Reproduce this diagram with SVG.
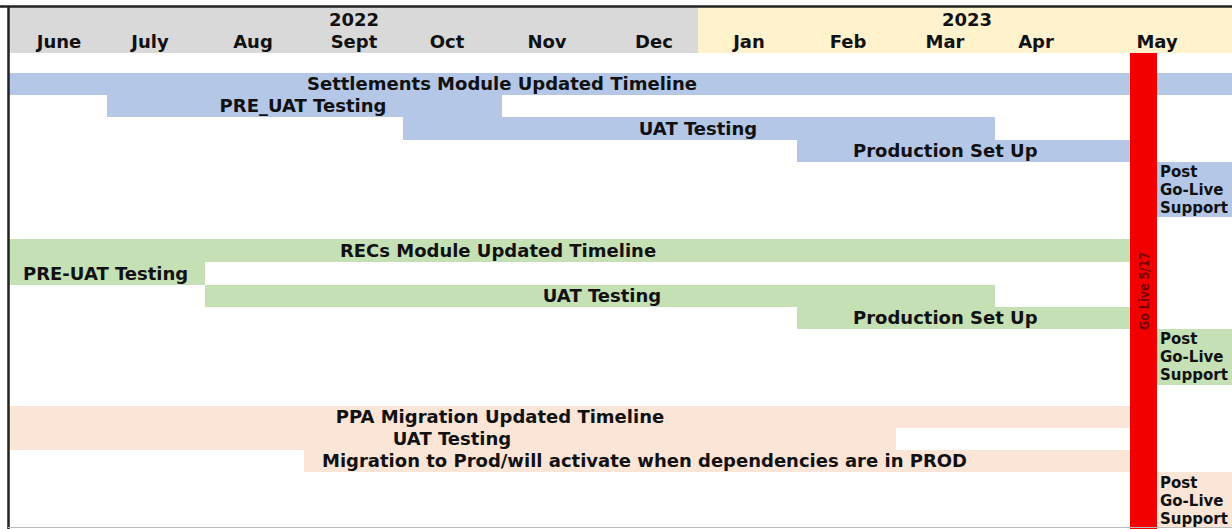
<svg xmlns="http://www.w3.org/2000/svg" width="1232" height="529" viewBox="0 0 1232 529">
  <style>
    text { font-family: "DejaVu Sans", Verdana, sans-serif; font-weight: bold; fill: #111; }
    .hdr { font-size: 18px; text-anchor: middle; }
    .lbl { font-size: 18px; }
    .mid { text-anchor: middle; }
    .post { font-size: 15px; }
    .blue { fill: #b4c7e7; }
    .green { fill: #c5e0b4; }
    .peach { fill: #fbe5d6; }
    .marker-label { font-size: 14px; fill: #7a0000; }
  </style>

  <rect width="1232" height="529" fill="#ffffff"/>

  <!-- header band: months by year -->
  <g id="header">
    <rect x="9" y="7" width="689" height="46" fill="#d9d9d9"/>
    <rect x="698" y="7" width="534" height="46" fill="#fff2cc"/>
    <text class="hdr" x="354" y="26">2022</text>
    <text class="hdr" x="967" y="26">2023</text>
    <text class="hdr" x="59" y="48">June</text>
    <text class="hdr" x="150" y="48">July</text>
    <text class="hdr" x="253" y="48">Aug</text>
    <text class="hdr" x="354" y="48">Sept</text>
    <text class="hdr" x="447" y="48">Oct</text>
    <text class="hdr" x="547" y="48">Nov</text>
    <text class="hdr" x="654" y="48">Dec</text>
    <text class="hdr" x="749" y="48">Jan</text>
    <text class="hdr" x="848" y="48">Feb</text>
    <text class="hdr" x="945" y="48">Mar</text>
    <text class="hdr" x="1036" y="48">Apr</text>
    <text class="hdr" x="1157" y="48">May</text>
  </g>

  <!-- Settlements module -->
  <g id="settlements">
    <rect class="blue" x="9" y="73" width="1223" height="22"/>
    <text class="lbl mid" x="502" y="90">Settlements Module Updated Timeline</text>
    <rect class="blue" x="107" y="95" width="395" height="22"/>
    <text class="lbl mid" x="303" y="112">PRE_UAT Testing</text>
    <rect class="blue" x="403" y="117" width="592" height="23"/>
    <text class="lbl mid" x="698" y="135">UAT Testing</text>
    <rect class="blue" x="797" y="140" width="333" height="22"/>
    <text class="lbl" x="853" y="157">Production Set Up</text>
    <rect class="blue" x="1157" y="162" width="75" height="55"/>
    <text class="post" x="1160" y="177">Post</text>
    <text class="post" x="1160" y="195">Go-Live</text>
    <text class="post" x="1160" y="213">Support</text>
  </g>

  <!-- RECs module -->
  <g id="recs">
    <rect class="green" x="9" y="239" width="1121" height="23"/>
    <text class="lbl mid" x="498" y="257">RECs Module Updated Timeline</text>
    <rect class="green" x="9" y="262" width="196" height="23"/>
    <text class="lbl" x="23" y="280">PRE-UAT Testing</text>
    <rect class="green" x="205" y="285" width="790" height="22"/>
    <text class="lbl mid" x="602" y="302">UAT Testing</text>
    <rect class="green" x="797" y="307" width="333" height="22"/>
    <text class="lbl" x="853" y="324">Production Set Up</text>
    <rect class="green" x="1157" y="329" width="75" height="56"/>
    <text class="post" x="1160" y="344">Post</text>
    <text class="post" x="1160" y="362">Go-Live</text>
    <text class="post" x="1160" y="380">Support</text>
  </g>

  <!-- PPA migration -->
  <g id="ppa">
    <rect class="peach" x="9" y="406" width="1121" height="22"/>
    <text class="lbl mid" x="500" y="423">PPA Migration Updated Timeline</text>
    <rect class="peach" x="9" y="428" width="887" height="22"/>
    <text class="lbl mid" x="452" y="445">UAT Testing</text>
    <rect class="peach" x="304" y="450" width="826" height="22"/>
    <text class="lbl" x="322" y="467">Migration to Prod/will activate when dependencies are in PROD</text>
    <rect class="peach" x="1157" y="472" width="75" height="55"/>
    <text class="post" x="1160" y="488">Post</text>
    <text class="post" x="1160" y="506">Go-Live</text>
    <text class="post" x="1160" y="524">Support</text>
  </g>

  <!-- go-live marker -->
  <g id="golive">
    <rect x="1130" y="53" width="27" height="476" fill="#f20000"/>
    <text class="marker-label" x="1148.5" y="330" textLength="78" lengthAdjust="spacingAndGlyphs" transform="rotate(-90 1148.5 330)">Go Live 5/17</text>
  </g>

  <!-- frame -->
  <g id="frame" fill="none">
    <line x1="0" y1="6.5" x2="1232" y2="6.5" stroke="#222" stroke-width="2.5"/>
    <line x1="8.5" y1="6" x2="8.5" y2="529" stroke="#222" stroke-width="2.5"/>
    <line x1="8" y1="527.5" x2="1232" y2="527.5" stroke="#bbb" stroke-width="1"/>
  </g>
</svg>
